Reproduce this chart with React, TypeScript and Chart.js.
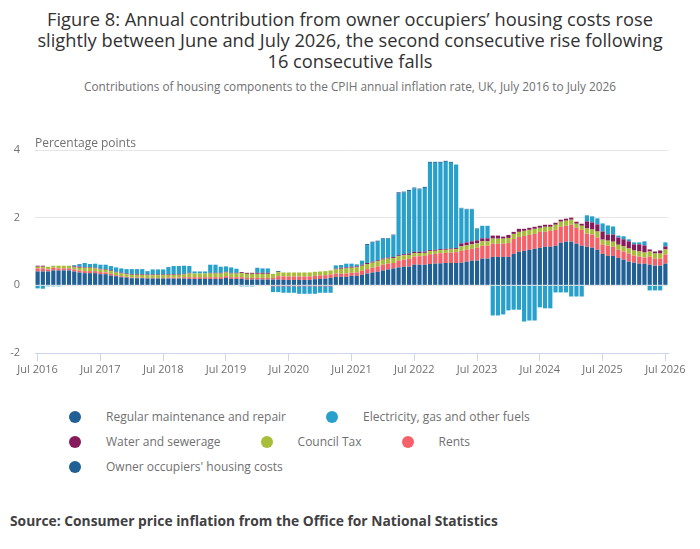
import { useEffect, useRef } from 'react';
import { Chart, registerables } from 'chart.js';

Chart.register(...registerables);

const monthNames = ['Jan', 'Feb', 'Mar', 'Apr', 'May', 'Jun', 'Jul', 'Aug', 'Sep', 'Oct', 'Nov', 'Dec'];

// Jul 2016 .. Jul 2026, one category per month
const categories: string[] = [];
for (let i = 0; i <= 120; i++) {
	categories.push(`${monthNames[(6 + i) % 12]} ${2016 + Math.floor((6 + i) / 12)}`);
}

// percentage points, one row per year starting in July
const regularMaintenance = [
	0, 0, 0, 0, 0, 0, 0, 0.01, 0.02, 0, 0, 0,
	0, 0, 0, 0, 0, 0, 0, 0, 0, 0, 0, 0,
	0, 0, 0, 0, 0, 0, 0, 0, 0, 0, 0, 0,
	0, 0, 0, 0, 0, 0, 0, 0, 0, 0, 0.03, 0,
	0, 0, 0, 0, 0, 0, 0, 0, 0, 0, 0, 0,
	0, 0, 0, 0.03, 0.03, 0.03, 0.02, 0.02, 0.03, 0.04, 0.03, 0.03,
	0.03, 0.03, 0.03, 0.03, 0.03, 0.03, 0.03, 0.03, 0, 0.02, 0.02, 0.02,
	0.01, 0, 0, 0, 0, 0, 0, 0, 0, 0, 0, 0,
	0, 0, 0, 0, 0, 0, 0, 0, 0, 0, 0, 0,
	0, 0, 0, 0, 0, 0, 0, 0, 0, 0, 0, 0,
	0,
];

const electricity = [
	-0.09, -0.1, -0.03, -0.03, -0.03, 0, 0, 0.03, 0.06, 0.12, 0.09, 0.12,
	0.12, 0.13, 0.13, 0.13, 0.13, 0.13, 0.15, 0.15, 0.15, 0.1, 0.15, 0.15,
	0.15, 0.21, 0.24, 0.24, 0.24, 0.2, 0.06, 0.06, 0.06, 0.24, 0.24, 0.18,
	0.16, 0.16, 0.12, -0.03, -0.03, -0.03, 0.15, 0.13, 0.13, -0.17, -0.17, -0.19,
	-0.19, -0.19, -0.22, -0.22, -0.22, -0.22, -0.19, -0.19, -0.19, 0.1, 0.08, 0.11,
	0.09, 0.06, 0.12, 0.53, 0.56, 0.55, 0.58, 0.55, 0.63, 1.82, 1.82, 1.85,
	1.87, 1.84, 1.88, 2.58, 2.57, 2.55, 2.57, 2.53, 2.47, 1.03, 0.97, 0.94,
	0.35, 0.37, 0.37, -0.89, -0.89, -0.86, -0.74, -0.72, -0.72, -1.07, -1.04, -1.04,
	-0.65, -0.68, -0.68, -0.21, -0.21, -0.21, -0.33, -0.33, -0.33, 0.18, 0.18, 0.18,
	0.24, 0.27, 0.24, 0.06, 0.09, 0.06, 0.06, 0.06, 0.12, -0.15, -0.15, -0.15,
	0.12,
];

const water = [
	0.03, 0.03, 0, 0, 0, 0, 0, 0.03, 0.03, 0.02, 0.02, 0.02,
	0.02, 0.02, 0.02, 0.02, 0.02, 0.02, 0.02, 0.02, 0.02, 0.02, 0.02, 0.02,
	0.02, 0.02, 0.02, 0.02, 0.02, 0.02, 0, 0, 0, 0.02, 0.02, 0.02,
	0.02, 0.02, 0.02, 0.03, 0.03, 0.03, 0.03, 0.03, 0.03, -0.03, -0.03, -0.03,
	-0.03, -0.03, -0.03, -0.03, -0.03, -0.03, -0.03, -0.03, -0.03, 0.02, 0.03, 0.03,
	0.03, 0.03, 0.03, 0.03, 0.03, 0.03, 0.03, 0.03, 0.03, 0.03, 0.03, 0.04,
	0.04, 0.04, 0.04, 0.03, 0.03, 0.03, 0.03, 0.03, 0.03, 0.09, 0.09, 0.09,
	0.09, 0.09, 0.09, 0.09, 0.09, 0.06, 0.09, 0.06, 0.09, 0.06, 0.06, 0.06,
	0.06, 0.06, 0.06, 0.06, 0.06, 0.06, 0.06, 0.06, 0.06, 0.21, 0.21, 0.21,
	0.24, 0.18, 0.21, 0.21, 0.21, 0.21, 0.18, 0.21, 0.21, 0.06, 0.06, 0.09,
	0.09,
];

const councilTax = [
	0.05, 0.05, 0.08, 0.06, 0.08, 0.08, 0.08, 0.06, 0.08, 0.1, 0.1, 0.08,
	0.08, 0.08, 0.08, 0.08, 0.08, 0.08, 0.08, 0.08, 0.08, 0.08, 0.08, 0.08,
	0.08, 0.08, 0.08, 0.08, 0.08, 0.11, 0.11, 0.11, 0.11, 0.11, 0.11, 0.11,
	0.11, 0.11, 0.11, 0.12, 0.12, 0.12, 0.12, 0.12, 0.12, 0.12, 0.12, 0.12,
	0.12, 0.12, 0.12, 0.12, 0.12, 0.12, 0.12, 0.12, 0.12, 0.12, 0.15, 0.15,
	0.15, 0.15, 0.15, 0.15, 0.15, 0.15, 0.15, 0.15, 0.15, 0.13, 0.13, 0.12,
	0.1, 0.09, 0.09, 0.09, 0.09, 0.09, 0.09, 0.09, 0.09, 0.13, 0.13, 0.13,
	0.13, 0.13, 0.13, 0.15, 0.15, 0.15, 0.15, 0.15, 0.15, 0.15, 0.15, 0.15,
	0.12, 0.15, 0.12, 0.15, 0.15, 0.15, 0.15, 0.12, 0.12, 0.15, 0.15, 0.18,
	0.15, 0.15, 0.15, 0.15, 0.15, 0.15, 0.15, 0.15, 0.15, 0.15, 0.15, 0.15,
	0.15,
];

const rents = [
	0.09, 0.09, 0.06, 0.08, 0.06, 0.06, 0.06, 0.06, 0.06, 0.06, 0.06, 0.06,
	0.06, 0.05, 0.05, 0.03, 0.03, 0.02, 0.02, 0.02, 0.02, 0.02, 0.02, 0.02,
	0.02, 0.03, 0.03, 0.03, 0.04, 0.05, 0.05, 0.05, 0.05, 0.05, 0.05, 0.05,
	0.05, 0.05, 0.05, 0.05, 0.05, 0.05, 0.05, 0.05, 0.05, 0.05, 0.1, 0.1,
	0.1, 0.1, 0.1, 0.1, 0.1, 0.1, 0.1, 0.1, 0.1, 0.1, 0.09, 0.1,
	0.09, 0.1, 0.12, 0.13, 0.14, 0.16, 0.17, 0.17, 0.16, 0.2, 0.21, 0.23,
	0.24, 0.25, 0.26, 0.29, 0.29, 0.3, 0.3, 0.31, 0.32, 0.35, 0.35, 0.35,
	0.38, 0.38, 0.38, 0.39, 0.39, 0.39, 0.41, 0.44, 0.44, 0.44, 0.44, 0.44,
	0.47, 0.44, 0.47, 0.47, 0.47, 0.47, 0.5, 0.47, 0.47, 0.39, 0.39, 0.36,
	0.27, 0.3, 0.27, 0.24, 0.24, 0.24, 0.21, 0.21, 0.18, 0.24, 0.21, 0.21,
	0.27,
];

const ownerOccupiers = [
	0.41, 0.41, 0.41, 0.44, 0.44, 0.44, 0.44, 0.41, 0.38, 0.36, 0.36, 0.36,
	0.33, 0.33, 0.29, 0.27, 0.24, 0.23, 0.21, 0.21, 0.21, 0.2, 0.2, 0.2,
	0.2, 0.2, 0.2, 0.2, 0.2, 0.19, 0.19, 0.19, 0.19, 0.19, 0.19, 0.19,
	0.22, 0.19, 0.19, 0.19, 0.17, 0.17, 0.17, 0.17, 0.17, 0.17, 0.17, 0.16,
	0.16, 0.16, 0.16, 0.16, 0.16, 0.18, 0.19, 0.2, 0.22, 0.25, 0.25, 0.25,
	0.28, 0.28, 0.31, 0.35, 0.38, 0.4, 0.44, 0.47, 0.5, 0.53, 0.55, 0.55,
	0.61, 0.61, 0.61, 0.63, 0.64, 0.65, 0.66, 0.66, 0.66, 0.67, 0.7, 0.73,
	0.73, 0.79, 0.79, 0.84, 0.84, 0.84, 0.84, 0.93, 0.99, 1.02, 1.05, 1.08,
	1.11, 1.14, 1.14, 1.17, 1.26, 1.29, 1.29, 1.23, 1.17, 1.14, 1.11, 1.05,
	0.93, 0.87, 0.87, 0.81, 0.76, 0.7, 0.67, 0.64, 0.64, 0.61, 0.58, 0.58,
	0.64,
];

// legend order (top of stack first, as in the reference)
const series = [
	{ name: 'Regular maintenance and repair', color: '#206095', data: regularMaintenance },
	{ name: 'Electricity, gas and other fuels', color: '#27a0cc', data: electricity },
	{ name: 'Water and sewerage', color: '#871a5b', data: water },
	{ name: 'Council Tax', color: '#a8bd3a', data: councilTax },
	{ name: 'Rents', color: '#f66068', data: rents },
	{ name: "Owner occupiers' housing costs", color: '#206095', data: ownerOccupiers },
];

const FONT = "'Open Sans', sans-serif";
const GREY = '#707071';

function StackedChart() {
	const chartRef = useRef<HTMLCanvasElement>(null);

	useEffect(() => {
		if (!chartRef.current) return;
		Chart.defaults.font.family = FONT;
		const chart = new Chart(chartRef.current, {
			type: 'bar',
			data: {
				labels: categories,
				// chart.js stacks the first dataset nearest zero
				datasets: [...series].reverse().map((s) => ({
					label: s.name,
					data: s.data,
					backgroundColor: s.color,
					borderWidth: 0,
					barPercentage: 0.8,
					categoryPercentage: 1,
				})),
			},
			options: {
				animation: false,
				responsive: false,
				layout: { padding: { top: 50, right: 32, left: 0, bottom: 0 } },
				plugins: { legend: { display: false }, tooltip: { enabled: false } },
				scales: {
					x: {
						stacked: true,
						offset: true,
						grid: {
							offset: false,
							drawOnChartArea: false,
							drawTicks: true,
							tickLength: 8,
							color: (ctx: any) => (ctx.index % 12 === 0 ? '#ccd6eb' : 'rgba(0,0,0,0)'),
						},
						border: { display: true, color: '#ccd6eb' },
						ticks: {
							autoSkip: false,
							maxRotation: 0,
							padding: 2,
							color: GREY,
							font: { size: 11 },
							callback: (_v: any, i: number) => (i % 12 === 0 ? categories[i] : ''),
						},
						afterFit: (s: any) => {
							s.height = 37;
						},
					},
					y: {
						stacked: true,
						min: -2,
						max: 4,
						ticks: { stepSize: 2, padding: 15, color: GREY, font: { size: 11 } },
						grid: { color: '#e6e6e6', drawTicks: false },
						border: { display: false },
						afterFit: (s: any) => {
							s.width = 35;
						},
					},
				},
			},
		});
		return () => chart.destroy();
	}, []);

	return (
		<canvas
			ref={chartRef}
			width={700}
			height={290}
			style={{ position: 'absolute', left: 0, top: 100, width: 700, height: 290 }}
		/>
	);
}

export default function App() {
	return (
		<div
			style={{
				position: 'absolute',
				left: 0,
				top: 0,
				width: 700,
				height: 549,
				background: '#fff',
				fontFamily: FONT,
			}}
		>
			<div
				style={{
					position: 'absolute',
					top: 8,
					left: 0,
					width: 700,
					textAlign: 'center',
					fontSize: 18.3,
					lineHeight: '21px',
					color: '#323132',
				}}
			>
				Figure 8: Annual contribution from owner occupiers’ housing costs rose
				<br />
				slightly between June and July 2026, the second consecutive rise following
				<br />
				16 consecutive falls
			</div>
			<div
				style={{
					position: 'absolute',
					top: 78,
					left: 0,
					width: 700,
					textAlign: 'center',
					fontSize: 11.8,
					lineHeight: '16px',
					color: GREY,
				}}
			>
				Contributions of housing components to the CPIH annual inflation rate, UK, July 2016 to July 2026
			</div>
			<StackedChart />
			<div style={{ position: 'absolute', left: 35, top: 135, fontSize: 12, lineHeight: '16px', color: GREY }}>
				Percentage points
			</div>
			<div
				style={{
					position: 'absolute',
					left: 69,
					top: 404,
					width: 560,
					display: 'flex',
					flexWrap: 'wrap',
					fontSize: 12,
					color: GREY,
				}}
			>
				{series.map((s) => (
					<div key={s.name} style={{ display: 'flex', alignItems: 'center', height: 25, marginRight: 40 }}>
						<span
							style={{
								display: 'inline-block',
								width: 12,
								height: 12,
								borderRadius: 6,
								background: s.color,
								marginRight: 25,
							}}
						/>
						<span>{s.name}</span>
					</div>
				))}
			</div>
			<div
				style={{
					position: 'absolute',
					left: 10,
					top: 512,
					fontSize: 13.8,
					lineHeight: '18px',
					fontWeight: 700,
					color: '#414042',
				}}
			>
				Source: Consumer price inflation from the Office for National Statistics
			</div>
		</div>
	);
}
